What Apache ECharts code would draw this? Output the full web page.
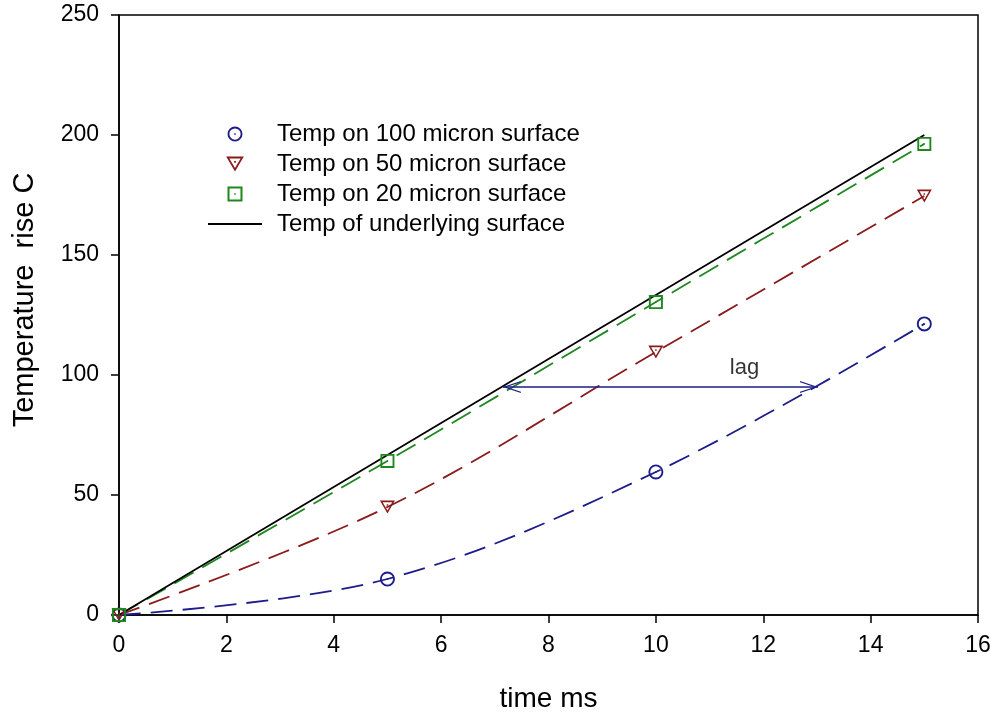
<!DOCTYPE html>
<html>
<head>
<meta charset="utf-8">
<script src="https://cdn.jsdelivr.net/npm/echarts@6/dist/echarts.min.js"></script>
<style>html,body{margin:0;padding:0;background:#fff}#c{width:996px;height:714px}</style>
</head>
<body>
<div id="c"></div>
<script>
// ---- data ----
const timeMs = [0, 5, 10, 15];
const temp100 = [0, 15, 59.6, 121.3];
const temp50 = [0, 45, 109.6, 174.6];
const temp20 = [0, 64.2, 130.4, 196.3];
const underlyingX = [0, 15];
const underlyingY = [0, 200];
const xTicks = [0, 2, 4, 6, 8, 10, 12, 14, 16];
const yTicks = [0, 50, 100, 150, 200, 250];
const lagX = [7.15, 13.02];
const lagY = 95;
const lagLabelPos = [11.65, 103];
const names = ['Temp on 100 micron surface', 'Temp on 50 micron surface', 'Temp on 20 micron surface', 'Temp of underlying surface'];

const BLUE = '#1c1c8a', RED = '#8b1a1a', GREEN = '#1e881e';
const FONT = '"Liberation Sans", Arial, sans-serif';

const circlePath = 'path://M0 10 A10 10 0 1 1 20 10 A10 10 0 1 1 0 10 Z M2.5 10 A7.5 7.5 0 1 0 17.5 10 A7.5 7.5 0 1 0 2.5 10 Z M9 9 L11 9 L11 11 L9 11 Z';
const triPath = 'path://M0 0 L20 0 L10 17 Z M3.6 2.2 L10 13 L16.4 2.2 Z M9 5 L11 5 L11 7 L9 7 Z';
const sqPath = 'path://M0 0 L20 0 L20 20 L0 20 Z M2.7 2.7 L2.7 17.3 L17.3 17.3 L17.3 2.7 Z M9 9 L11 9 L11 11 L9 11 Z';
// open chevron whose tip sits at the symbol centre (dummy point keeps the box balanced)
const chevron = 'path://M5 0 L5.01 0 L5 0.01 Z M0 24 L5 12 L10 24 L9 24 L5 14.4 L1 24 Z';
const legendLine = 'path://M0 0 L54 0 L54 1.8 L0 1.8 Z';

const zip = (xs, ys) => xs.map((x, i) => [x, ys[i]]);

function curve(name, ys, color) {
  return {
    name: name + ' fit', type: 'line', data: zip(timeMs, ys), smooth: 0.35,
    symbol: 'none', silent: true, z: 2,
    lineStyle: { color: color, width: 1.8, type: [22, 10] }
  };
}
function pts(name, ys, color, sym, size) {
  return {
    name: name, type: 'scatter', data: zip(timeMs, ys), symbol: sym, symbolSize: size,
    itemStyle: { color: color, opacity: 1 }, z: 4, silent: true
  };
}

const chart = echarts.init(document.getElementById('c'), null, { renderer: 'canvas' });
chart.setOption({
  animation: false,
  backgroundColor: '#fff',
  grid: { left: 119, right: 18, top: 15, bottom: 99, outerBoundsMode: 'none', containLabel: false,
          show: true, borderColor: '#000', borderWidth: 1.5, backgroundColor: 'transparent' },
  legend: {
    data: [{ name: names[0] }, { name: names[1] }, { name: names[2] }, { name: names[3], icon: legendLine }],
    orient: 'vertical', left: 208, top: 121, padding: 0,
    itemWidth: 54, itemHeight: 15, itemGap: 4,
    selectedMode: false,
    textStyle: { fontFamily: FONT, fontSize: 24, color: '#000', lineHeight: 26, padding: [0, 0, 0, 10] }
  },
  xAxis: {
    type: 'value', min: 0, max: 16, interval: 2,
    name: 'time ms', nameLocation: 'middle', nameGap: 70,
    nameTextStyle: { fontFamily: FONT, fontSize: 28, color: '#000' },
    axisLine: { show: true, lineStyle: { color: '#000', width: 1.5 } },
    axisTick: { show: true, length: 8, lineStyle: { color: '#000', width: 1.5 } },
    axisLabel: { fontFamily: FONT, fontSize: 23, color: '#000', margin: 19, formatter: v => xTicks.includes(v) ? String(v) : '' },
    splitLine: { show: false }
  },
  yAxis: {
    type: 'value', min: 0, max: 250, interval: 50,
    name: 'Temperature  rise C', nameLocation: 'middle', nameGap: 80,
    nameTextStyle: { fontFamily: FONT, fontSize: 29, color: '#000', padding: [0, 0, 0, 30] },
    axisLine: { show: true, lineStyle: { color: '#000', width: 1.5 } },
    axisTick: { show: true, length: 8, lineStyle: { color: '#000', width: 1.5 } },
    axisLabel: { fontFamily: FONT, fontSize: 23, color: '#000', margin: 20, formatter: v => yTicks.includes(v) ? String(v) : '' },
    splitLine: { show: false }
  },
  series: [
    curve(names[0], temp100, BLUE),
    curve(names[1], temp50, RED),
    curve(names[2], temp20, GREEN),
    pts(names[0], temp100, BLUE, circlePath, 15),
    pts(names[1], temp50, RED, triPath, [15, 13]),
    pts(names[2], temp20, GREEN, sqPath, 14),
    {
      name: names[3], type: 'line', data: zip(underlyingX, underlyingY), symbol: 'none', z: 3, silent: true,
      itemStyle: { color: '#000' },
      lineStyle: { color: '#000', width: 1.8 },
      markLine: {
        silent: true, symbol: [chevron, chevron], symbolSize: [12, 36],
        lineStyle: { color: BLUE, width: 1.5, type: 'solid' },
        itemStyle: { color: BLUE },
        label: { show: false }, emphasis: { disabled: true },
        data: [[{ coord: [lagX[0], lagY] }, { coord: [lagX[1], lagY] }]]
      }
    },
    {
      name: 'lag label', type: 'scatter', data: [lagLabelPos], symbolSize: 0, silent: true,
      label: { show: true, position: 'inside', formatter: 'lag', fontFamily: FONT, fontSize: 22, color: '#000' }
    }
  ]
});
</script>
</body>
</html>
